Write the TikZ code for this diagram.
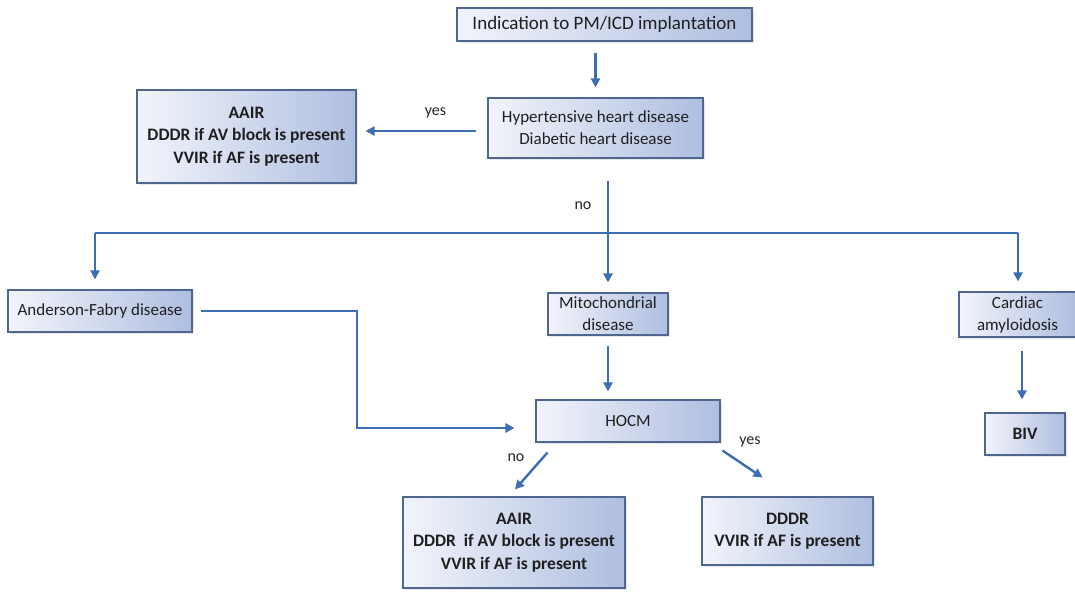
\documentclass[tikz,border=0pt]{standalone}
\usepackage{fontspec}
\setmainfont{Carlito}
\usetikzlibrary{arrows.meta,shadows}
\definecolor{arrowblue}{HTML}{3C6EB4}
\definecolor{boxborder}{HTML}{4F6790}
\definecolor{boxleft}{HTML}{F2F4FB}
\definecolor{boxright}{HTML}{AFBEE0}
\tikzset{
  box/.style={draw=boxborder, line width=1.1pt, left color=boxleft, right color=boxright,
    align=center, inner sep=2pt, text=black!88, font=\fontsize{17}{22}\selectfont,
    drop shadow={opacity=0.18, shadow xshift=2pt, shadow yshift=-2pt}},
  bbox/.style={box, font=\fontsize{17.5}{22.5}\selectfont\bfseries},
  conn/.style={draw=arrowblue, line width=2.4pt},
  arr/.style={conn, -{Triangle[length=9pt,width=9pt]}},
  lbl/.style={font=\fontsize{16}{18}\selectfont, text=black!85}
}
\begin{document}
\begin{tikzpicture}[x=1pt,y=-1pt]
\useasboundingbox (0,0) rectangle (1075,591);
\fill[white] (0,0) rectangle (1075,591);

\node[box, minimum width=295pt, minimum height=33pt, font=\fontsize{19}{22}\selectfont] (top) at (604.5,24.5) {Indication to PM/ICD implantation};
\node[box, minimum width=215pt, minimum height=60pt] (hyp) at (595.5,128) {Hypertensive heart disease\\Diabetic heart disease};
\node[bbox, minimum width=219pt, minimum height=93pt] (aair1) at (246.5,136.5) {AAIR\\DDDR if AV block is present\\VVIR if AF is present};
\node[box, minimum width=184pt, minimum height=42pt] (af) at (100,311) {Anderson-Fabry disease};
\node[box, minimum width=120pt, minimum height=42pt] (mito) at (608,314) {Mitochondrial\\disease};
\node[box, minimum width=117pt, minimum height=45pt] (card) at (1017.5,314.5) {Cardiac\\amyloidosis};
\node[bbox, minimum width=80pt, minimum height=42pt] (biv) at (1025,434) {BIV};
\node[box, minimum width=184pt, minimum height=42pt] (hocm) at (628,421) {HOCM};
\node[bbox, minimum width=222pt, minimum height=91pt] (aair2) at (514,542.5) {AAIR\\DDDR\ \ if AV block is present\\VVIR if AF is present};
\node[bbox, minimum width=171pt, minimum height=68pt] (dddr) at (787.5,531) {DDDR\\VVIR if AF is present};

\coordinate (j) at (608,233);
\coordinate (jl) at (95,233);
\coordinate (jr) at (1018,233);
\coordinate (k1) at (357,311);
\coordinate (k2) at (357,428);

\draw[arr, shorten <=11pt, shorten >=10pt] (top.south -| hyp.north) -- (hyp.north);
\draw[arr, shorten <=11pt, shorten >=9pt] ([yshift=-3pt]hyp.west) -- ([yshift=-3pt]hyp.west -| aair1.east);
\node[lbl] (yes1) at (435.5,113) {yes};
\draw[conn, shorten <=22pt] (hyp.south -| j) -- (j);
\node[lbl] (no1) at (583,206) {no};
\draw[conn] (jl) -- (jr);
\draw[arr, shorten >=10pt] (j) -- (mito.north);
\draw[arr, shorten >=10pt] (jl) -- (jl |- af.north);
\draw[arr, shorten >=10pt] (jr) -- (jr |- card.north);
\draw[arr, shorten <=8pt, shorten >=21pt] (af.east) -- (k1) -- (k2) -- (k2 -| hocm.west);
\draw[arr, shorten <=10pt, shorten >=8pt] (mito.south) -- (mito.south |- hocm.north);
\draw[arr] ([xshift=12pt,yshift=-10pt]hocm.south west) -- ([xshift=1pt,yshift=7pt]aair2.north);
\node[lbl] (no2) at (516,458) {no};
\draw[arr] ([xshift=2pt,yshift=-8pt]hocm.south east) -- ([xshift=-25pt,yshift=19pt]dddr.north);
\node[lbl] (yes2) at (750,442) {yes};
\draw[arr, shorten <=13pt, shorten >=13pt] (card.south -| 1022,0) -- (biv.north -| 1022,0);
\end{tikzpicture}
\end{document}
